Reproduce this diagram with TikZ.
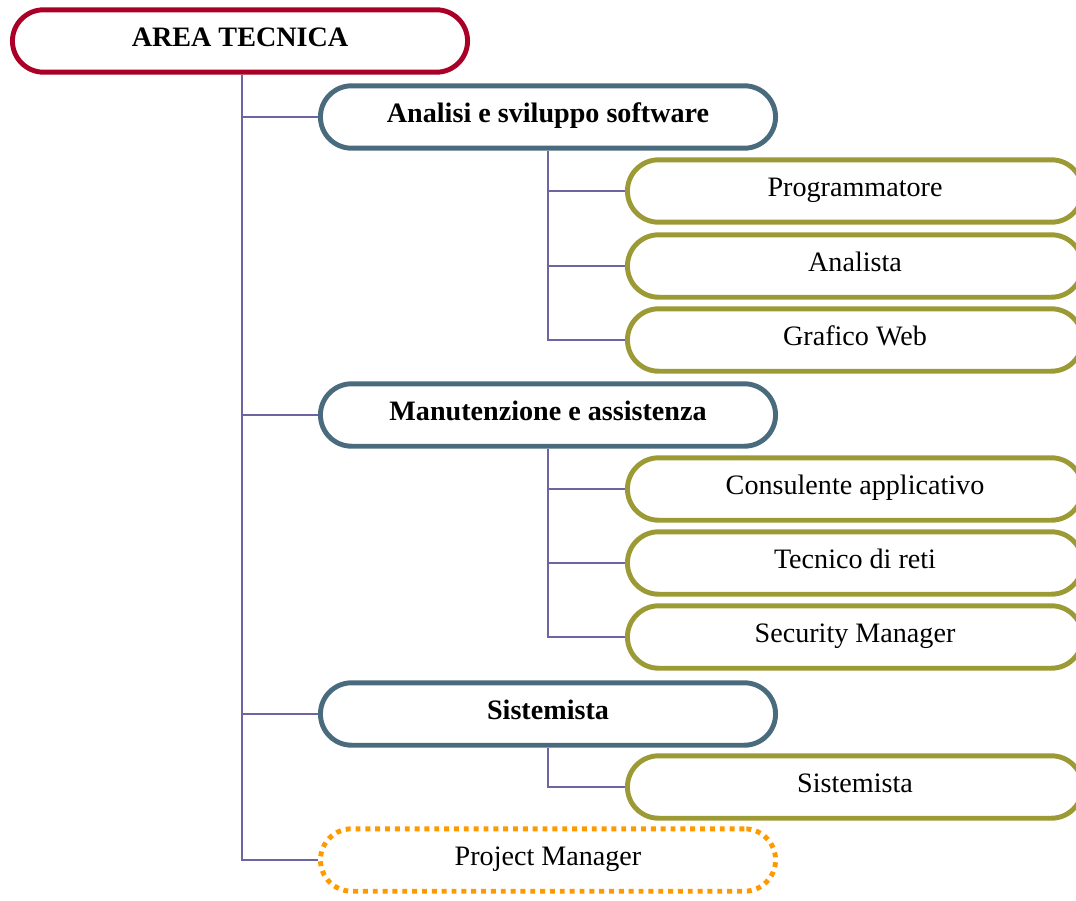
\documentclass[tikz,border=0pt]{standalone}
\usepackage{fontspec}
\setmainfont{Liberation Serif}

\definecolor{areared}{RGB}{170,0,40}
\definecolor{slate}{RGB}{74,107,125}
\definecolor{olive}{RGB}{156,154,52}
\definecolor{pmorange}{RGB}{255,153,0}
\definecolor{linkblue}{RGB}{110,100,160}

\begin{document}
\begin{tikzpicture}[x=0.025cm, y=-0.025cm]
        \useasboundingbox (0,0) rectangle (1076,900);
        \begin{scope}[every node/.style={draw, line width=3.5pt, rounded corners=0.78cm, minimum width=11.375cm, minimum height=1.56cm, inner sep=0, fill=white, text height=0.85em, text depth=0em, font=\fontsize{20}{24}\selectfont}]
            \node [draw=areared, font=\fontsize{20}{24}\selectfont\bfseries] (area) at (240,41) {AREA TECNICA};
            \node [draw=slate, font=\fontsize{20}{24}\selectfont\bfseries] (asw) at (548,117) {Analisi e sviluppo software};
            \node [draw=olive] (prog) at (855,191) {Programmatore};
            \node [draw=olive] (anal) at (855,266) {Analista};
            \node [draw=olive] (graf) at (855,340) {Grafico Web};
            \node [draw=slate, font=\fontsize{20}{24}\selectfont\bfseries] (man) at (548,415) {Manutenzione e assistenza};
            \node [draw=olive] (cons) at (855,489) {Consulente applicativo};
            \node [draw=olive] (reti) at (855,563) {Tecnico di reti};
            \node [draw=olive] (secm) at (855,637) {Security Manager};
            \node [draw=slate, font=\fontsize{20}{24}\selectfont\bfseries] (sis) at (548,714) {Sistemista};
            \node [draw=olive] (sis1) at (855,787) {Sistemista};
            \node [draw=pmorange, dash pattern=on 3.5pt off 3.5pt] (pm) at (548,860) {Project Manager};
        \end{scope}
        \begin{scope}[every path/.style={draw=linkblue, line width=1.4pt}]
            \path ([xshift=0.05cm]area.south) |- (pm.west);
            \path ([xshift=0.05cm]area.south) |- (asw.west);
            \path ([xshift=0.05cm]area.south) |- (man.west);
            \path ([xshift=0.05cm]area.south) |- (sis.west);
            \path (asw.south) |- (graf.west);
            \path (asw.south) |- (prog.west);
            \path (asw.south) |- (anal.west);
            \path (man.south) |- (secm.west);
            \path (man.south) |- (cons.west);
            \path (man.south) |- (reti.west);
            \path (sis.south) |- (sis1.west);
        \end{scope}
    \end{tikzpicture}
\end{document}
